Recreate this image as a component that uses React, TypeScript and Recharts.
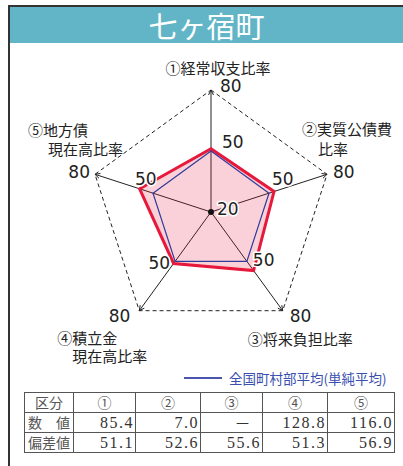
import React from 'react';
import { RadarChart, Radar, PolarGrid, PolarAngleAxis, PolarRadiusAxis } from 'recharts';

const title = '七ヶ宿町';
const categories = ['①経常収支比率', '②実質公債費比率', '③将来負担比率', '④積立金現在高比率', '⑤地方債現在高比率'];
const categoryLines = [['①経常収支比率'], ['②実質公債費', '比率'], ['③将来負担比率'], ['④積立金', '現在高比率'], ['⑤地方債', '現在高比率']];
const deviationValues = [51.1, 52.6, 55.6, 51.3, 56.9];
const nationalAverage = [50, 50, 50, 50, 50];
const scaleMin = 20;
const scaleMid = 50;
const scaleMax = 80;
const legendLabel = '全国町村部平均(単純平均)';
const tableHeader = ['区分', '①', '②', '③', '④', '⑤'];
const rawRowLabel = '数　値';
const rawValues = ['85.4', '7.0', '－', '128.8', '116.0'];
const devRowLabel = '偏差値';
const devValuesText = ['51.1', '52.6', '55.6', '51.3', '56.9'];

const data = categories.map((c, i) => ({
  name: c,
  value: deviationValues[i],
  avg: nationalAverage[i],
  max: scaleMax,
  mid: scaleMid,
  min: scaleMin,
}));

const CX = 211;
const CY = 212;
const R = 122;
const RED = '#e6193c';
const BLUE = '#2f3a9a';
const NUM_FONT = "'DejaVu Sans', sans-serif";
const JP_FONT = "'Noto Sans CJK JP', sans-serif";

const dirOf = (i: number) => {
  const a = ((90 - i * 72) * Math.PI) / 180;
  return { dx: Math.cos(a), dy: -Math.sin(a) };
};

const maxOff: [number, number, string][] = [
  [9, -4, 'start'],
  [6, -2, 'start'],
  [7, 5, 'start'],
  [-9, 5, 'end'],
  [-5, -2, 'end'],
];
const midOff: [number, number, string][] = [
  [11, -9, 'start'],
  [3, -14, 'start'],
  [6, -1, 'start'],
  [-5, 2, 'end'],
  [-18, -14, 'start'],
];
const catOff: [number, number, string][][] = [
  [[7, -23, 'middle']],
  [[-25, -46, 'start'], [-9, -26, 'start']],
  [[-35, 27, 'start']],
  [[-82, 26, 'start'], [-67, 44.5, 'start']],
  [[-67, -45, 'start'], [-47, -26.5, 'start']],
];

const haloText = (x: number, y: number, anchor: string, txt: string, key?: string) => (
  <text
    key={key}
    x={x}
    y={y}
    textAnchor={anchor as any}
    dominantBaseline="central"
    fontFamily={NUM_FONT}
    fontSize={17}
    fill="#222"
    stroke="#fff"
    strokeWidth={3}
    paintOrder="stroke"
    strokeLinejoin="round"
  >
    {txt}
  </text>
);

const MaxDot = (props: any) => {
  const { cx, cy, index } = props;
  const { dx, dy } = dirOf(index);
  const px = -dy;
  const py = dx;
  const bx = cx - 5 * dx;
  const by = cy - 5 * dy;
  const [ox, oy, anc] = maxOff[index];
  return (
    <g key={`max-${index}`}>
      <polyline
        points={`${bx + 2.5 * px},${by + 2.5 * py} ${cx},${cy} ${bx - 2.5 * px},${by - 2.5 * py}`}
        fill="none"
        stroke="#222"
        strokeWidth={1}
      />
      {haloText(cx + ox, cy + oy, anc, String(scaleMax))}
    </g>
  );
};

const MidDot = (props: any) => {
  const { cx, cy, index } = props;
  const [ox, oy, anc] = midOff[index];
  return <g key={`mid-${index}`}>{haloText(cx + ox, cy + oy, anc, String(scaleMid))}</g>;
};

const MinDot = (props: any) => {
  const { cx, cy, index } = props;
  if (index !== 0) return <g key={`min-${index}`} />;
  return (
    <g key={`min-${index}`}>
      <circle cx={cx} cy={cy} r={3} fill="#111" />
      {haloText(cx + 6, cy - 3, 'start', String(scaleMin))}
    </g>
  );
};

const AngleTick = (props: any) => {
  const { payload } = props;
  const index = payload?.index ?? categories.indexOf(payload?.value);
  const { dx, dy } = dirOf(index);
  const tx = CX + R * dx;
  const ty = CY + R * dy;
  const lines = categoryLines[index] || [];
  const offs = catOff[index];
  return (
    <text fontFamily={JP_FONT} fontSize={15} fill="#222" dominantBaseline="central">
      {lines.map((ln, k) => {
        const [ox, oy, anc] = offs[k];
        return (
          <tspan key={k} x={tx + ox} y={ty + oy} textAnchor={anc as any} dominantBaseline="central">
            {ln}
          </tspan>
        );
      })}
    </text>
  );
};

const cellBase: React.CSSProperties = {
  border: '1px solid #555',
  height: 19,
  padding: 0,
  lineHeight: '19px',
};
const colWidths = [49, 62, 65, 62, 65, 67];

export default function App() {
  return (
    <div style={{ position: 'absolute', left: 0, top: 0, width: 403, height: 466, background: '#fff', overflow: 'hidden' }}>
      <div style={{ position: 'absolute', left: 8, top: 5, width: 2, height: 461, background: '#333' }} />
      <div style={{ position: 'absolute', left: 8, top: 5, width: 395, height: 2, background: '#333' }} />
      <div
        style={{
          position: 'absolute',
          left: 10,
          top: 7,
          width: 393,
          height: 36,
          background: '#62b5c6',
          color: '#fff',
          fontFamily: JP_FONT,
          fontSize: 29,
          lineHeight: '36px',
          textAlign: 'center',
        }}
      >
        {title}
      </div>
      <div style={{ position: 'absolute', left: 0, top: 0 }}>
        <RadarChart width={403} height={370} data={data} cx={CX} cy={CY} outerRadius={R} margin={{ top: 0, right: 0, bottom: 0, left: 0 }}>
          <PolarGrid gridType="polygon" polarRadius={[R]} radialLines={false} stroke="#222" strokeDasharray="4 3" />
          <PolarGrid gridType="polygon" polarRadius={[0]} radialLines={true} stroke="#222" strokeWidth={1} />
          <PolarAngleAxis dataKey="name" axisLine={false} tickLine={false} tick={<AngleTick />} />
          <PolarRadiusAxis domain={[scaleMin, scaleMax]} tick={false} axisLine={false} tickCount={3} />
          <Radar dataKey="value" stroke={RED} strokeWidth={3} fill={RED} fillOpacity={0.2} isAnimationActive={false} dot={false} />
          <Radar dataKey="avg" stroke={BLUE} strokeWidth={1.2} fill="none" fillOpacity={0} isAnimationActive={false} dot={false} />
          <Radar dataKey="max" stroke="none" fill="none" fillOpacity={0} isAnimationActive={false} dot={(p: any) => <MaxDot {...p} key={`mx-${p.index}`} />} />
          <Radar dataKey="mid" stroke="none" fill="none" fillOpacity={0} isAnimationActive={false} dot={(p: any) => <MidDot {...p} key={`md-${p.index}`} />} />
          <Radar dataKey="min" stroke="none" fill="none" fillOpacity={0} isAnimationActive={false} dot={(p: any) => <MinDot {...p} key={`mn-${p.index}`} />} />
        </RadarChart>
      </div>
      <div style={{ position: 'absolute', left: 184, top: 368, height: 20, display: 'flex', alignItems: 'center' }}>
        <div style={{ width: 38, height: 1.5, background: '#4a55b0', marginRight: 7 }} />
        <span style={{ fontFamily: JP_FONT, fontSize: 13.5, color: '#3a4fb0', whiteSpace: 'nowrap' }}>{legendLabel}</span>
      </div>
      <table
        style={{
          position: 'absolute',
          left: 24,
          top: 392,
          width: 371,
          borderCollapse: 'collapse',
          tableLayout: 'fixed',
          color: '#333',
        }}
      >
        <colgroup>
          {colWidths.map((w, i) => (
            <col key={i} style={{ width: w }} />
          ))}
        </colgroup>
        <tbody>
          <tr>
            {tableHeader.map((h, i) => (
              <td key={i} style={{ ...cellBase, textAlign: 'center', fontFamily: JP_FONT, fontSize: 14, color: '#555' }}>
                {h}
              </td>
            ))}
          </tr>
          <tr>
            <td style={{ ...cellBase, textAlign: 'center', fontFamily: JP_FONT, fontSize: 14, color: '#555' }}>{rawRowLabel}</td>
            {rawValues.map((v, i) => (
              <td
                key={i}
                style={{
                  ...cellBase,
                  textAlign: 'right',
                  paddingRight: v === '－' ? 10 : 1,
                  fontFamily: v === '－' ? JP_FONT : "'Liberation Serif', serif",
                  fontSize: 16,
                  letterSpacing: 1.5,
                }}
              >
                {v}
              </td>
            ))}
          </tr>
          <tr>
            <td style={{ ...cellBase, textAlign: 'center', fontFamily: JP_FONT, fontSize: 14, color: '#555' }}>{devRowLabel}</td>
            {devValuesText.map((v, i) => (
              <td key={i} style={{ ...cellBase, textAlign: 'right', paddingRight: 1, fontFamily: "'Liberation Serif', serif", fontSize: 16, letterSpacing: 1.5 }}>
                {v}
              </td>
            ))}
          </tr>
        </tbody>
      </table>
    </div>
  );
}
